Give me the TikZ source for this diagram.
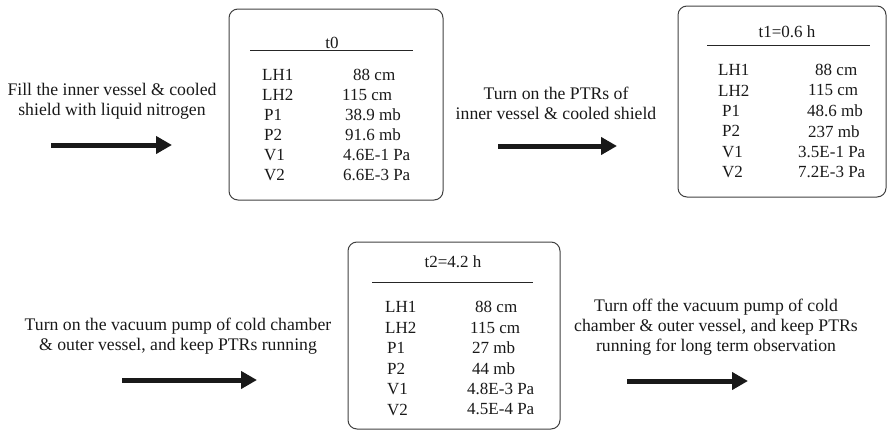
\documentclass[tikz,border=0pt]{standalone}
\usepackage{fontspec}
\setmainfont{Liberation Serif}
\usetikzlibrary{arrows.meta}
\begin{document}
\begin{tikzpicture}[x=1pt,y=-1pt,
  txt/.style={font=\fontsize{17.7}{20}\selectfont, inner sep=0pt, align=center, text=black!90},
  cell/.style={font=\fontsize{17}{20}\selectfont, inner sep=0pt, anchor=west, text=black!90},
  ttl/.style={font=\fontsize{17}{20}\selectfont, inner sep=0pt, text=black!90},
  panel/.style={draw=black!75, line width=1pt, rounded corners=9pt, inner sep=0pt},
  rulel/.style={draw=black!85, line width=1pt},
  bigarrow/.style={line width=5pt, black!90, -{Triangle[length=16pt,width=17pt]}}]
\useasboundingbox (0,0) rectangle (889,431);

% panels
\node (b0) [panel, minimum width=214pt, minimum height=191pt] at (336,104.5) {};
\node (b1) [panel, minimum width=208pt, minimum height=191pt] at (782,101.5) {};
\node (b2) [panel, minimum width=212pt, minimum height=187pt] at (454,335.5) {};

% titles and rules
\node (h0) [ttl] at (332,43) {t0};
\draw[rulel] (250,50) -- (413,50);
\node (h1) [ttl] at (787,32) {t1=0.6 h};
\draw[rulel] (707,45) -- (870,45);
\node (h2) [ttl] at (453,262) {t2=4.2 h};
\draw[rulel] (372,282) -- (533,282);

% table t0
\foreach \lab/\lx/\val/\vx [count=\i from 0] in
  {LH1/262/88 cm/353, LH2/262/115 cm/342, P1/264/38.9 mb/345,
   P2/264/91.6 mb/345, V1/264/4.6E-1 Pa/343, V2/264/6.6E-3 Pa/343}{
  \node (a\i) [cell] at (\lx,75+20*\i) {\lab};
  \node (av\i) [cell] at (\vx,75+20*\i) {\val};
}
% table t1
\foreach \lab/\lx/\val/\vx [count=\i from 0] in
  {LH1/718/88 cm/815, LH2/718/115 cm/808, P1/722/48.6 mb/807,
   P2/722/237 mb/808, V1/722/3.5E-1 Pa/798, V2/722/7.2E-3 Pa/798}{
  \node (c\i) [cell] at (\lx,70+20.4*\i) {\lab};
  \node (cv\i) [cell] at (\vx,70+20.4*\i) {\val};
}
% table t2
\foreach \lab/\lx/\val/\vx [count=\i from 0] in
  {LH1/385/88 cm/475, LH2/385/115 cm/470, P1/387/27 mb/472,
   P2/387/44 mb/472, V1/387/4.8E-3 Pa/467, V2/387/4.5E-4 Pa/467}{
  \node (e\i) [cell] at (\lx,307+20.5*\i) {\lab};
  \node (ev\i) [cell] at (\vx,307+20.5*\i) {\val};
}

% step texts
\node (s1) [txt] at (112,101) {Fill the inner vessel \& cooled\\shield with liquid nitrogen};
\node (s2) [txt] at (556,103) {Turn on the PTRs of\\inner vessel \& cooled shield};
\node (s3) [txt] at (178,336) {Turn on the vacuum pump of cold chamber\\\& outer vessel, and keep PTRs running};
\node (s4) [txt] at (716,327) {Turn off the vacuum pump of cold\\chamber \& outer vessel, and keep PTRs\\running for long term observation};

% arrows
\coordinate (p1s) at (51,145);  \coordinate (p1e) at (172,145);
\coordinate (p2s) at (498,146); \coordinate (p2e) at (617,146);
\coordinate (p3s) at (122,380); \coordinate (p3e) at (257,380);
\coordinate (p4s) at (627,381); \coordinate (p4e) at (748,381);
\draw[bigarrow] (p1s) -- (p1e);
\draw[bigarrow] (p2s) -- (p2e);
\draw[bigarrow] (p3s) -- (p3e);
\draw[bigarrow] (p4s) -- (p4e);
\end{tikzpicture}
\end{document}
